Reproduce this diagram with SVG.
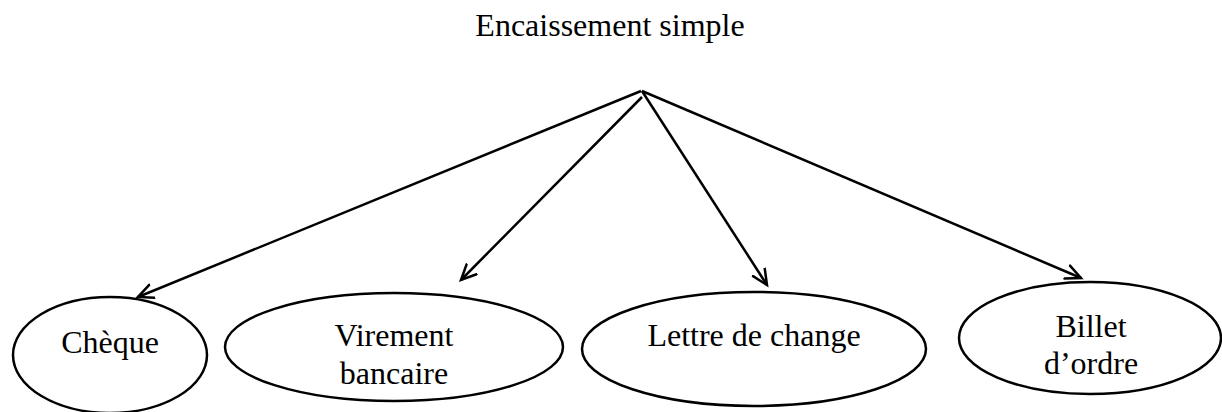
<svg xmlns="http://www.w3.org/2000/svg" width="1222" height="412" viewBox="0 0 1222 412">
  <style>
    .label { font-family: "Liberation Serif", "Times New Roman", serif; font-size: 32px; fill: #000; text-anchor: middle; }
    .node { fill: #fff; stroke: #000; stroke-width: 2.5; }
    .edge { fill: none; stroke: #000; stroke-width: 2.5; }
  </style>
  <defs>
    <marker id="open-arrow" markerUnits="userSpaceOnUse" markerWidth="20" markerHeight="20" viewBox="-16 -10 20 20" refX="0" refY="0" orient="auto">
      <path d="M -15 -7 L 0 0 L -15 7" fill="none" stroke="#000" stroke-width="2.5" stroke-linecap="round" stroke-linejoin="miter"/>
    </marker>
  </defs>
  <rect width="1222" height="412" fill="#fff"/>

  <g id="root">
    <text class="label" x="610" y="36">Encaissement simple</text>
  </g>

  <g id="connectors">
    <line class="edge" x1="641" y1="91" x2="138" y2="297" marker-end="url(#open-arrow)"/>
    <line class="edge" x1="642" y1="97" x2="461" y2="280" marker-end="url(#open-arrow)"/>
    <line class="edge" x1="642" y1="91" x2="767" y2="285" marker-end="url(#open-arrow)"/>
    <line class="edge" x1="642" y1="91" x2="1081" y2="278" marker-end="url(#open-arrow)"/>
  </g>

  <g id="cheque">
    <ellipse class="node" cx="110" cy="355" rx="97" ry="58"/>
    <text class="label" x="110" y="353">Chèque</text>
  </g>

  <g id="virement">
    <ellipse class="node" cx="394" cy="347" rx="169" ry="54"/>
    <text class="label" x="394" y="346">Virement</text>
    <text class="label" x="394" y="384">bancaire</text>
  </g>

  <g id="lettre">
    <ellipse class="node" cx="754" cy="349" rx="172" ry="57"/>
    <text class="label" x="754" y="346">Lettre de change</text>
  </g>

  <g id="billet">
    <ellipse class="node" cx="1090" cy="338" rx="131" ry="56"/>
    <text class="label" x="1091" y="337">Billet</text>
    <text class="label" x="1091" y="374">d’ordre</text>
  </g>
</svg>
